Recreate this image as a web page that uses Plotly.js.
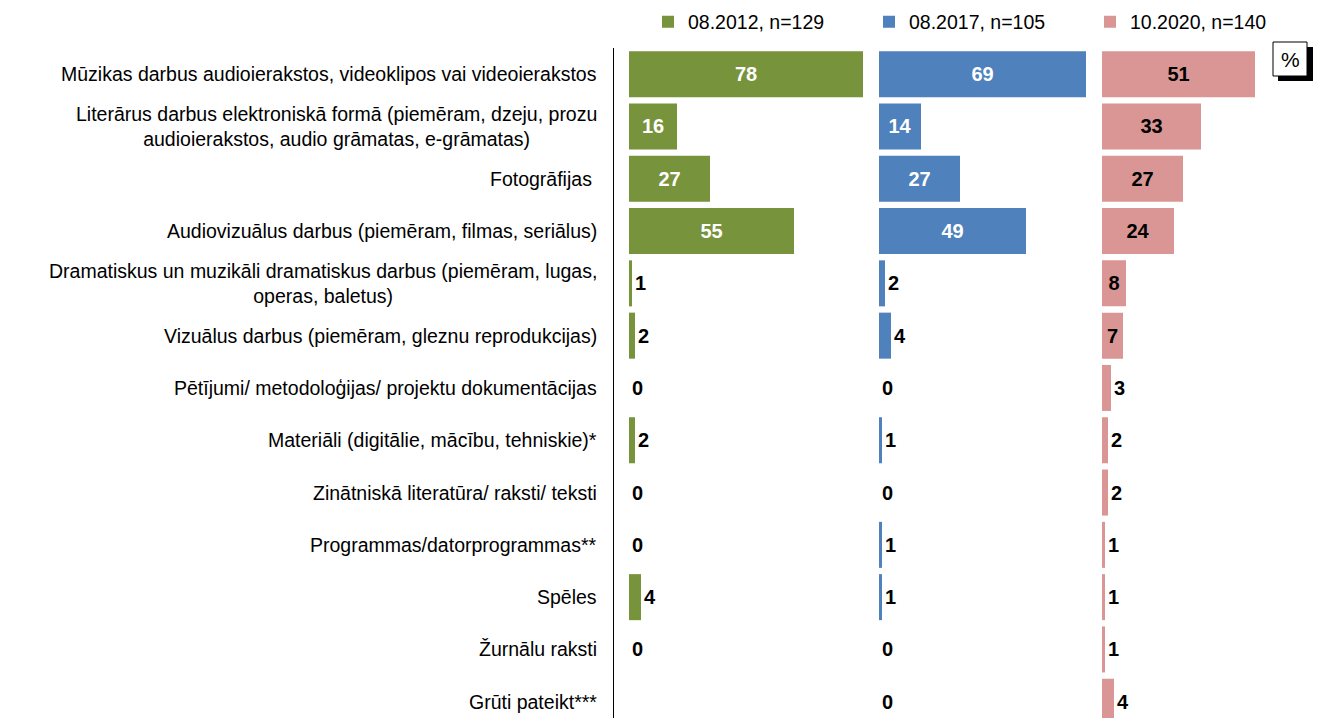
<!DOCTYPE html>
<html>
<head>
<meta charset="utf-8">
<script src="https://cdn.plot.ly/plotly-3.0.1.min.js"></script>
<style>html,body{margin:0;padding:0;background:#fff;}#chart{width:1319px;height:718px;}</style>
</head>
<body>
<div id="chart"></div>
<script>
const categories = [
  "Mūzikas darbus audioierakstos, videoklipos vai videoierakstos",
  "Literārus darbus elektroniskā formā (piemēram, dzeju, prozu<br>audioierakstos, audio grāmatas, e-grāmatas)",
  "Fotogrāfijas ",
  "Audiovizuālus darbus (piemēram, filmas, seriālus)",
  "Dramatiskus un muzikāli dramatiskus darbus (piemēram, lugas,<br>operas, baletus)",
  "Vizuālus darbus (piemēram, gleznu reprodukcijas)",
  "Pētījumi/ metodoloģijas/ projektu dokumentācijas",
  "Materiāli (digitālie, mācību, tehniskie)*",
  "Zinātniskā literatūra/ raksti/ teksti",
  "Programmas/datorprogrammas**",
  "Spēles",
  "Žurnālu raksti",
  "Grūti pateikt***"
];
const seriesNames = ["08.2012, n=129", "08.2017, n=105", "10.2020, n=140"];
const values2012 = [78, 16, 27, 55, 1, 2, 0, 2, 0, 0, 4, 0, null];
const values2017 = [69, 14, 27, 49, 2, 4, 0, 1, 0, 1, 1, 0, 0];
const values2020 = [51, 33, 27, 24, 8, 7, 3, 2, 2, 1, 1, 1, 4];

const FONT = "Liberation Sans, Arial, sans-serif";
const colors = ["#77933C", "#4F81BD", "#D99694"];
const insideColors = ["#FFFFFF", "#FFFFFF", "#000000"];
const insideMin = [10, 10, 6];

function makeTrace(vals, idx, xa) {
  return {
    type: "bar",
    orientation: "h",
    name: seriesNames[idx],
    y: categories,
    x: vals,
    xaxis: xa,
    yaxis: "y",
    marker: {color: colors[idx], line: {width: 0}},
    text: vals.map(v => v === null ? "" : String(v)),
    textposition: vals.map(v => (v !== null && v >= insideMin[idx]) ? "inside" : "outside"),
    insidetextanchor: "middle",
    textangle: 0,
    constraintext: "none",
    cliponaxis: false,
    insidetextfont: {family: FONT, size: 20, weight: "bold", color: insideColors[idx]},
    outsidetextfont: {family: FONT, size: 20, weight: "bold", color: "#000000"},
    hoverinfo: "skip"
  };
}

const data = [
  makeTrace(values2012, 0, "x"),
  makeTrace(values2017, 1, "x2"),
  makeTrace(values2020, 2, "x3")
];

// pixel helpers for paper coords (plot area: x 614..1314, y 48..718)
const L = 614, W = 700, T = 48, H = 670;
const px = p => (p - L) / W;
const py = p => (718 - p) / H;

const hiddenX = {visible: false, showgrid: false, zeroline: false, fixedrange: true};

const annotations = categories.map((c, i) => ({
  xref: "paper", yref: "y", x: 0, y: i, xshift: -15,
  xanchor: "right", yanchor: "middle", align: "center",
  text: c, showarrow: false,
  font: {family: FONT, size: 19.5, color: "#000000"}
}));
annotations.push({
  xref: "paper", yref: "paper", x: px(1290), y: py(59),
  xanchor: "center", yanchor: "middle",
  text: "%", showarrow: false,
  font: {family: FONT, size: 21, color: "#000000"}
});

const layout = {
  width: 1319, height: 718,
  margin: {l: L, r: 5, t: T, b: 0, pad: 0},
  paper_bgcolor: "#ffffff", plot_bgcolor: "rgba(0,0,0,0)",
  font: {family: FONT, size: 19.5, color: "#000000"},
  barmode: "overlay",
  bargap: 0.12,
  showlegend: true,
  legend: {
    orientation: "h", x: px(648), xanchor: "left", y: py(22), yanchor: "middle",
    font: {family: FONT, size: 19.5, color: "#000000"},
    traceorder: "normal", itemclick: false, itemdoubleclick: false,
    entrywidth: 176, entrywidthmode: "pixels", bgcolor: "rgba(0,0,0,0)"
  },
  xaxis: Object.assign({domain: [0, px(870)], range: [-5, (870 - 629) / 3]}, hiddenX),
  xaxis2: Object.assign({domain: [px(870), px(1095)], range: [-3, (1095 - 879) / 3]}, hiddenX),
  xaxis3: Object.assign({domain: [px(1095), 1], range: [-7 / 3, (1314 - 1102) / 3]}, hiddenX),
  yaxis: {
    type: "category", categoryorder: "array", categoryarray: categories,
    autorange: false, range: [-0.5 + H / 52.3, -0.5],
    showticklabels: false, ticks: "", showgrid: false, zeroline: false,
    showline: true, linecolor: "#000000", linewidth: 1, anchor: "x", fixedrange: true
  },
  shapes: [
    {type: "rect", xref: "paper", yref: "paper", x0: px(1278), x1: px(1313), y0: py(47), y1: py(81),
     fillcolor: "#000000", line: {width: 0}, layer: "above"},
    {type: "rect", xref: "paper", yref: "paper", x0: px(1273), x1: px(1307), y0: py(42), y1: py(76),
     fillcolor: "#ffffff", line: {color: "#000000", width: 1}, layer: "above"}
  ],
  annotations: annotations
};

Plotly.newPlot("chart", data, layout, {displayModeBar: false, staticPlot: true});
</script>
</body>
</html>
